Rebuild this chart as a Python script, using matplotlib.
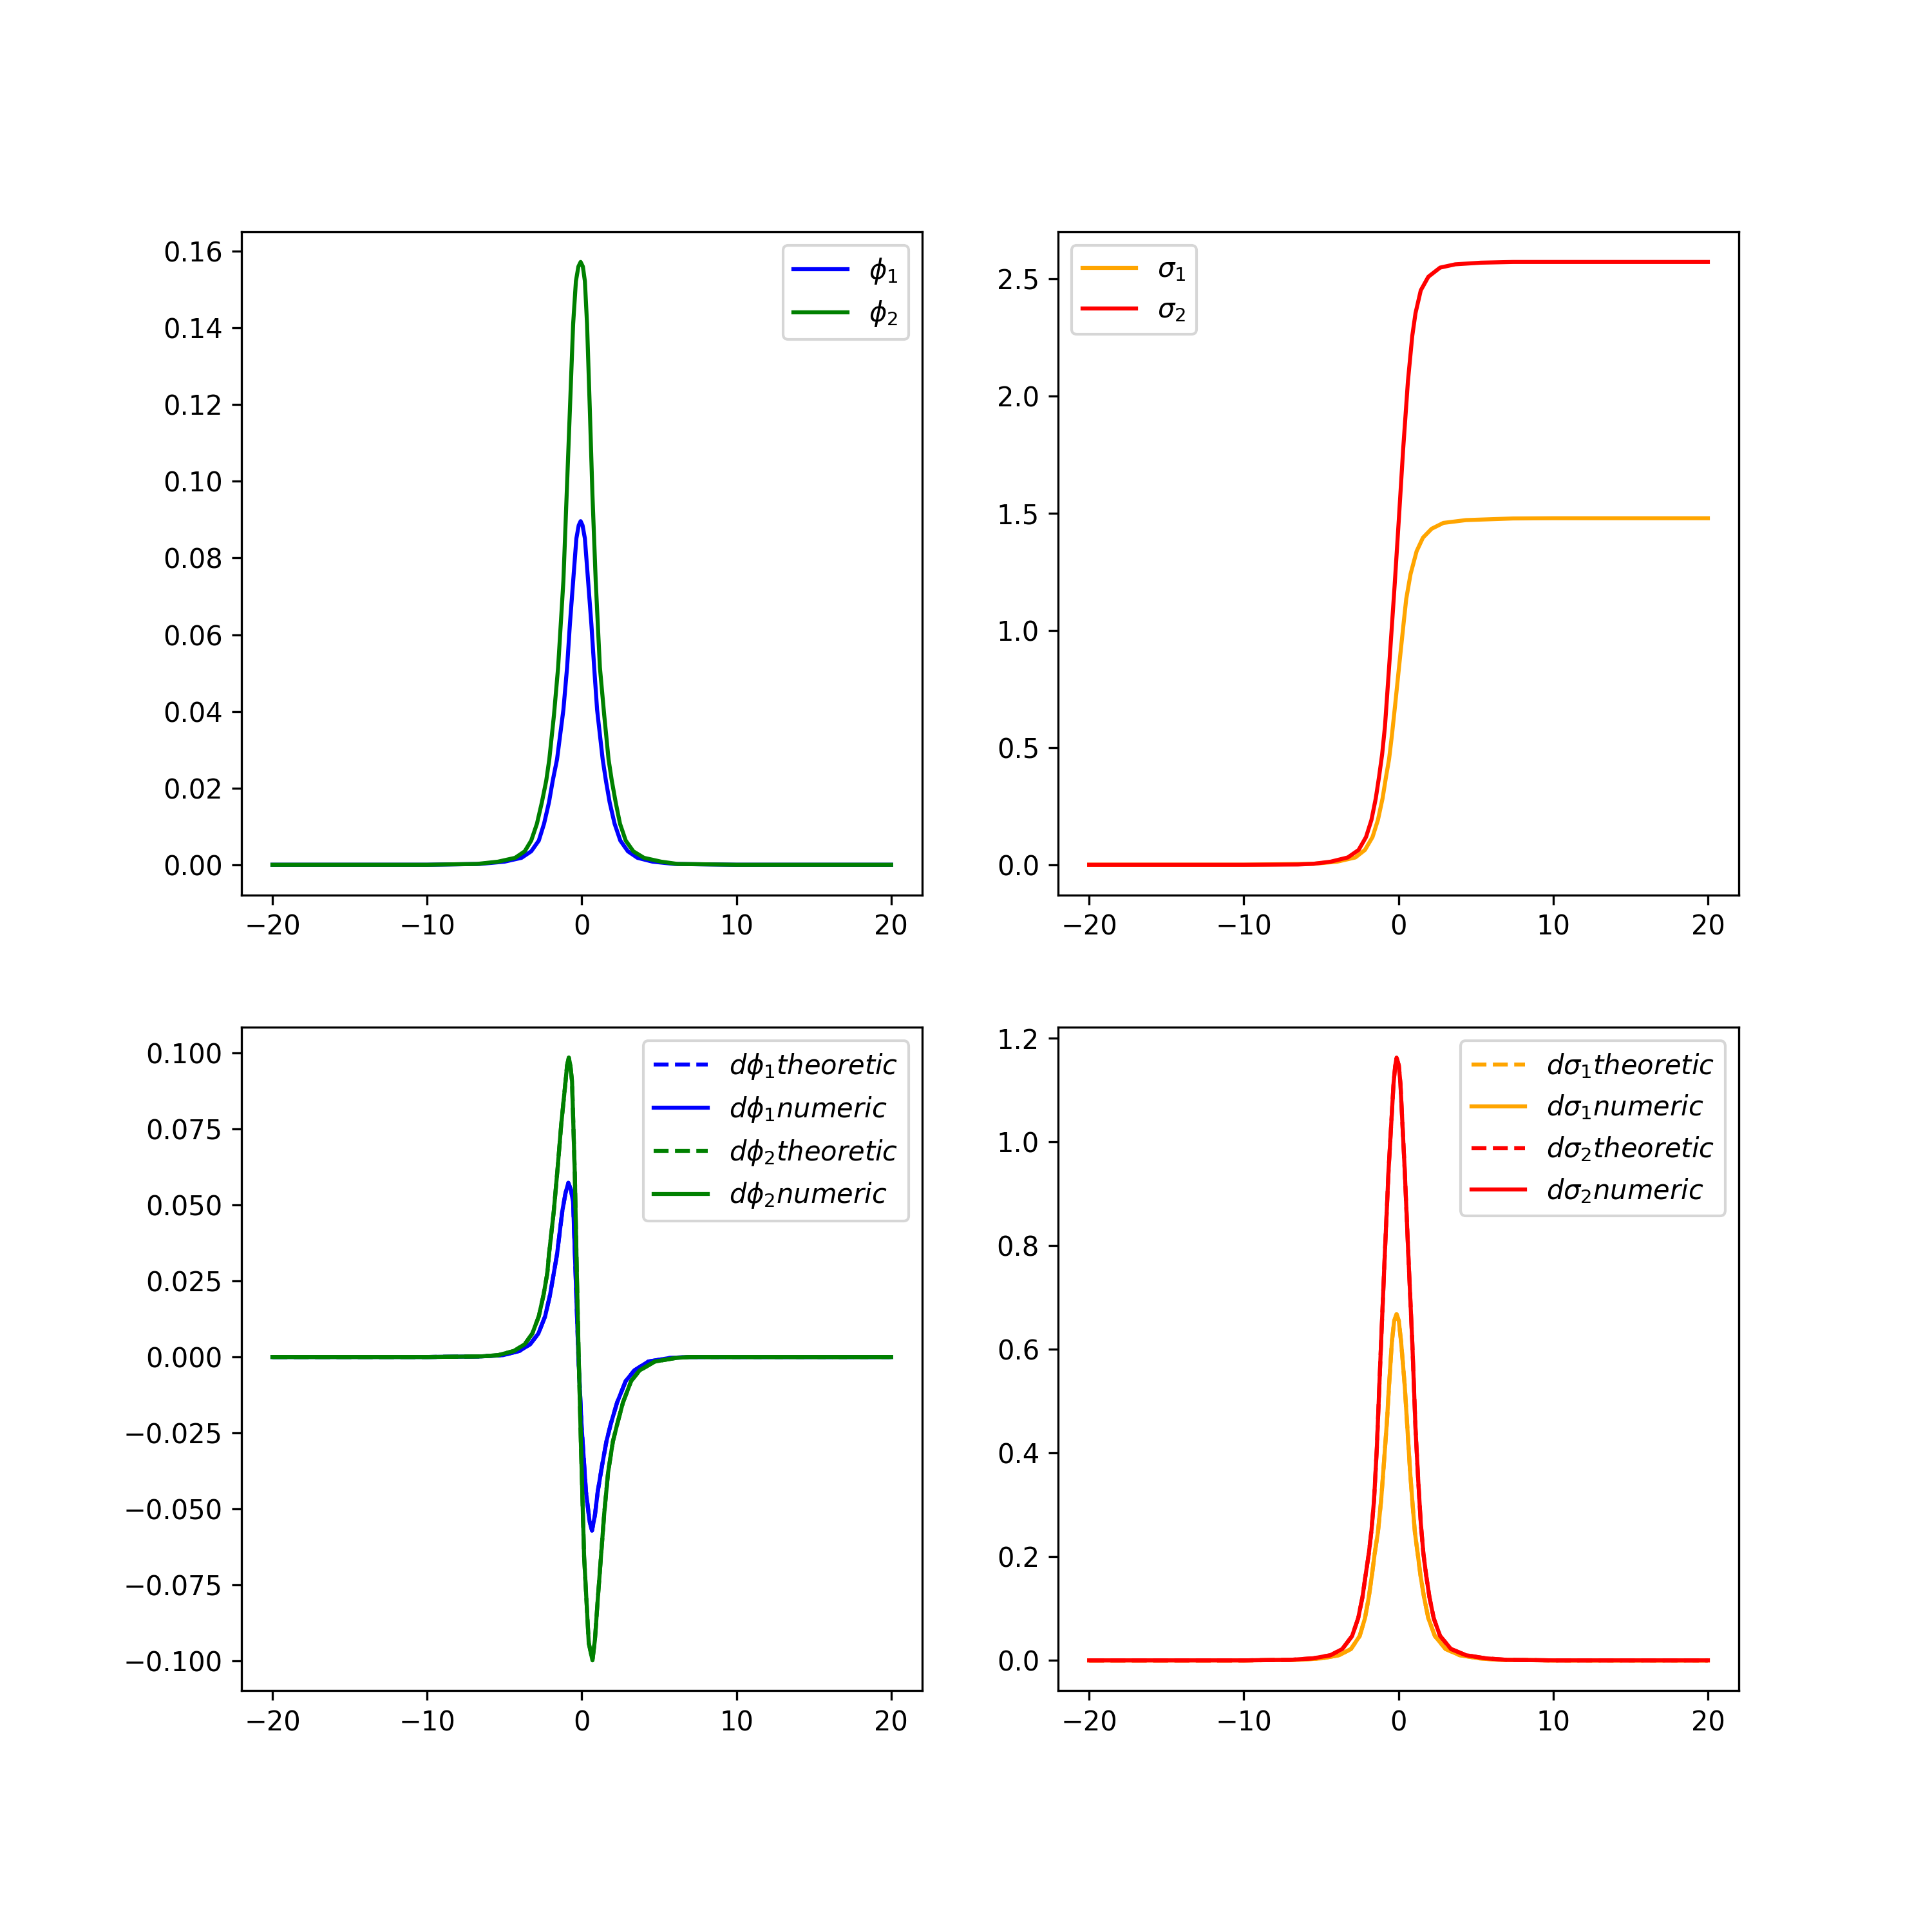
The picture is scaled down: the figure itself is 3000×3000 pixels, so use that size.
import matplotlib.pyplot as plt

# values
phi1_x = [-20, -10, -6.6, -5.0, -3.9, -3.27, -2.78, -2.44, -2.12, -1.88, -1.6, -1.19, -0.95, -0.77, -0.56,
          -0.35, -0.2, -0.075, 0.05, 0.2, 0.41, 0.62, 0.8, 0.99, 1.35, 1.56, 1.8, 2.12, 2.49, 2.98, 3.6, 4.58,
          6.0, 10, 20]
phi1_y = [0, 0, 0.0002, 0.0008, 0.0018, 0.0035, 0.0063, 0.0107, 0.0163, 0.0219, 0.0275, 0.0404, 0.0515, 0.0627,
          0.0739, 0.0851, 0.0885, 0.0896, 0.0885, 0.0851, 0.0739, 0.0627, 0.0515, 0.0404, 0.0275, 0.0219, 0.0163,
          0.0107, 0.0063, 0.0035, 0.0018, 0.0008, 0.0002, 0, 0]

phi2_x = [-20, -10, -6.8, -5.42, -4.31, -3.69, -3.27, -2.9, -2.58, -2.3, -2.1, -1.8, -1.53, -1.19, -0.98,
          -0.77, -0.56, -0.38, -0.22, -0.075, 0.07, 0.2, 0.34, 0.52, 0.69, 0.9, 1.17, 1.45, 1.73, 1.94, 2.19,
          2.47, 2.84, 3.33, 4.02, 5.13, 6.2, 10, 20]
phi2_y = [0, 0, 0.0002, 0.0008, 0.0018, 0.0035, 0.0063, 0.0107, 0.0163, 0.0219, 0.0275, 0.039, 0.0515, 0.074,
          0.0963, 0.1186, 0.141, 0.1522, 0.156, 0.1572, 0.156, 0.1522, 0.141, 0.1186, 0.0963, 0.074, 0.0515,
          0.039, 0.0275, 0.0219, 0.0163, 0.0107, 0.0063, 0.0035, 0.0018, 0.0008, 0.0002, 0, 0]

sigma1_x = [-20, -10, -5.5, -3.97, -2.79, -2.17, -1.68, -1.33, -1.03, -0.81, -0.61, -0.43, -0.22, 0.06, 0.33,
            0.5, 0.78, 1.17, 1.58, 2.14, 2.9, 4.36, 7.4, 10, 20]
sigma1_y = [0, 0, 0.004, 0.013, 0.031, 0.063, 0.118, 0.191, 0.283, 0.374, 0.45, 0.55, 0.68, 0.86, 1.03,
            1.134, 1.24, 1.337, 1.395, 1.433, 1.458, 1.47, 1.477, 1.478, 1.478]

sigma2_x = [-20, -10, -6.5, -5.5, -4.39, -3.28, -2.58, -2.1, -1.75, -1.47, -1.26, -1.06, -0.875, -0.61, -0.25,
            0.03, 0.3, 0.61, 0.89, 1.1, 1.44, 1.93, 2.69, 3.67, 5.33, 7.4, 10, 20]
sigma2_y = [0, 0, 0.001, 0.004, 0.013, 0.031, 0.063, 0.118, 0.191, 0.283, 0.374, 0.47, 0.59, 0.841, 1.192,
            1.482, 1.772, 2.063, 2.256, 2.353, 2.45, 2.508, 2.547, 2.561, 2.568, 2.571, 2.571, 2.571]

dphi1_x = [-20, -10, -6.5, -5.1, -4.03, -3.34, -2.81, -2.37, -2.05, -1.81, -1.6, -1.26, -1.05, -0.87, -0.7,
           -0.56, -0.35, -0.22, -0.01, 0.27, 0.5, 0.66, 0.85, 1.03, 1.3, 1.59, 1.87, 2.28, 2.84, 3.4, 4.3, 5.7,
           7, 10, 20]
dphi1_y = [0, 0, 0.0002, 0.0006, 0.002, 0.0042, 0.0077, 0.0134, 0.0205, 0.0276, 0.0338, 0.048, 0.054, 0.0573,
           0.055, 0.0509, 0.0196, 0, -0.023, -0.0443, -0.054, -0.0571, -0.052, -0.0443, -0.036, -0.0278, -0.0221,
           -0.015, -0.0079, -0.0044, -0.0015, -0.0003, 0, 0, 0]

dphi2_x = [-20, -10, -6.5, -5.42, -4.38, -3.69, -3.2, -2.78, -2.47, -2.23, -2.12, -1.81, -1.56, -1.33, -1.05,
           -0.95, -0.84, -0.74, -0.63, -0.45, -0.33, -0.2, -0.05, 0.15, 0.45, 0.69, 0.85, 1.03, 1.45, 1.7, 2.01,
           2.29, 2.66, 3.19, 3.74, 4.72, 6.1, 7, 10, 20]
dphi2_y = [0, 0, 0.0002, 0.0006, 0.002, 0.0042, 0.0077, 0.0134, 0.0205, 0.0276, 0.0338, 0.048, 0.0623, 0.0765,
           0.0907, 0.096, 0.0985, 0.096, 0.0907, 0.06, 0.03, 0, -0.03, -0.0657, -0.0941, -0.0998, -0.093, -0.0799,
           -0.0515, -0.038, -0.0278, -0.0221, -0.015, -0.0079, -0.0044, -0.0015, -0.0003, 0, 0, 0]

dsigma1_x = [-20, -10, -6.5, -4.94, -3.83, -3.07, -2.51, -2.17, -1.92, -1.72, -1.54, -1.33, -1.12, -0.92,
             -0.75, -0.61, -0.43, -0.28, -0.125, 0.02, 0.17, 0.4, 0.75, 0.9, 1.06, 1.24, 1.42, 1.65, 1.93, 2.35,
             3.04, 3.95, 5.2, 6.5, 10, 20]
dsigma1_y = [0, 0, 0.001, 0.004, 0.010, 0.022, 0.047, 0.081, 0.122, 0.164, 0.206, 0.247, 0.31, 0.39,
             0.46, 0.531, 0.614, 0.655, 0.668, 0.655, 0.614, 0.531, 0.364, 0.305, 0.247, 0.206, 0.164, 0.122,
             0.081, 0.047, 0.022, 0.010, 0.004, 0.001, 0, 0]

dsigma2_x = [-20, -10, -7, -5.5, -4.39, -3.63, -3.0, -2.61, -2.33, -2.13, -1.92, -1.75, -1.58, -1.4, -1.125,
             -0.89, -0.64, -0.32, -0.22, -0.125, 0.02, 0.125, 0.4, 0.64, 0.89, 1.1, 1.27, 1.44, 1.61, 1.79, 2.0,
             2.28, 2.69, 3.39, 4.36, 5.61, 7, 10, 20]
dsigma2_y = [0, 0, 0.001, 0.004, 0.010, 0.022, 0.047, 0.081, 0.122, 0.164, 0.206, 0.25, 0.31, 0.41, 0.614,
             0.78, 0.947, 1.113, 1.145, 1.163, 1.148, 1.113, 0.947, 0.78, 0.614, 0.447, 0.35, 0.265, 0.206, 0.164,
             0.122, 0.081, 0.047, 0.022, 0.010, 0.004, 0.001, 0, 0]

fig, axes = plt.subplots(2, 2, figsize=(10, 10))
fig.subplots_adjust(bottom=0.125)

ax = axes[0, 0]
ax.plot(phi1_x, phi1_y, color="blue", label=r"$\phi_1$")
ax.plot(phi2_x, phi2_y, color="green", label=r"$\phi_2$")
ax.legend(loc="upper right")

ax = axes[0, 1]
ax.plot(sigma1_x, sigma1_y, color="orange", label=r"$\sigma_1$")
ax.plot(sigma2_x, sigma2_y, color="red", label=r"$\sigma_2$")
ax.legend(loc="upper left")

ax = axes[1, 0]
ax.plot(dphi1_x, dphi1_y, "--", color="blue", label=r"$d\phi_1 theoretic$")
ax.plot(dphi1_x, dphi1_y, color="blue", label=r"$d\phi_1 numeric$")
ax.plot(dphi2_x, dphi2_y, "--", color="green", label=r"$d\phi_2 theoretic$")
ax.plot(dphi2_x, dphi2_y, color="green", label=r"$d\phi_2 numeric$")
ax.legend(loc="upper right")

ax = axes[1, 1]
ax.plot(dsigma1_x, dsigma1_y, "--", color="orange", label=r"$d\sigma_1 theoretic$")
ax.plot(dsigma1_x, dsigma1_y, color="orange", label=r"$d\sigma_1 numeric$")
ax.plot(dsigma2_x, dsigma2_y, "--", color="red", label=r"$d\sigma_2 theoretic$")
ax.plot(dsigma2_x, dsigma2_y, color="red", label=r"$d\sigma_2 numeric$")
ax.legend(loc="upper right")

fig.savefig("out.png", dpi=300)
